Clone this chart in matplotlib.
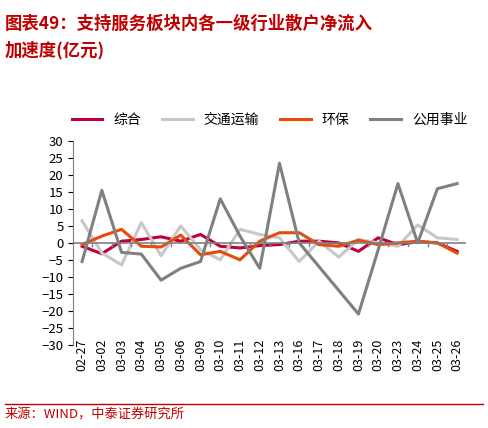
import matplotlib.pyplot as plt

plt.rcParams['font.family'] = ['Noto Sans CJK SC', 'DejaVu Sans']

dates = ["02-27", "03-02", "03-03", "03-04", "03-05", "03-06", "03-09", "03-10", "03-11", "03-12",
         "03-13", "03-16", "03-17", "03-18", "03-19", "03-20", "03-23", "03-24", "03-25", "03-26"]
zonghe = [-1, -3.2, 0.5, 1, 1.8, 0.5, 2.5, -1, -1.5, -0.8, -0.5, 0.5, 0.5, 0, -2.5, 1.5, -0.5, 0.3, 0, -2.5]
jiaotong = [6.5, -3, -6.5, 6, -3.8, 5, -2, -5, 4, 2.5, 1.5, -5.5, 0.5, -4.2, 1, 0, -1, 5.3, 1.5, 1]
huanbao = [-0.5, 2, 4, -1, -1.2, 2.3, -3.5, -2.5, -5, 0.5, 3, 3, -0.5, -1, 0.8, -0.5, 0, 0.5, 0, -3]
gongyong = [-5.5, 15.5, -2.8, -3.3, -11, -7.5, -5.5, 13, 2, -7.5, 23.5, 0, -7, -14, -21, -2, 17.5, 0, 16, 17.5]

fig = plt.figure(figsize=(4.88, 4.28), dpi=100)
ax = fig.add_axes([0.15, 0.195, 0.805, 0.475])
x = list(range(len(dates)))
ax.plot(x, zonghe, color="#c0003c", lw=2.2, label="综合")
ax.plot(x, jiaotong, color="#c8c8c8", lw=2.2, label="交通运输")
ax.plot(x, huanbao, color="#e84a0c", lw=2.2, label="环保")
ax.plot(x, gongyong, color="#808080", lw=2.2, label="公用事业")

ax.set_ylim(-30, 30)
ax.set_yticks(range(-30, 31, 5))
ax.set_xlim(-0.45, len(dates) - 0.55)
ax.set_xticks(x)
ax.set_xticklabels(dates, rotation=90)
ax.tick_params(axis='x', length=0, labelsize=9, pad=-4)
ax.tick_params(axis='y', labelsize=9.5, direction='out')
for s in ["top", "right", "bottom"]:
    ax.spines[s].set_visible(False)
ax.spines["left"].set_color("#808080")
ax.axhline(0, color="#808080", lw=1.2)
for xi in x:
    ax.plot([xi + 0.5, xi + 0.5], [0, -0.9], color="#808080", lw=1)

ax.legend(loc="upper center", bbox_to_anchor=(0.5, 1.2), ncol=4, frameon=False,
          fontsize=10, handlelength=2.2, columnspacing=1.5)

fig.text(0.01, 0.965, "图表49：支持服务板块内各一级行业散户净流入", fontsize=12.5, fontweight="bold",
         style="italic", color="#c00000", va="top")
fig.text(0.01, 0.905, "加速度(亿元)", fontsize=12.5, fontweight="bold", style="italic",
         color="#c00000", va="top")
fig.add_artist(plt.Line2D([0.01, 0.99], [0.055, 0.055], color="#c00000", lw=1))
fig.text(0.01, 0.03, "来源：WIND，中泰证券研究所", fontsize=9.5, color="#c00000", va="center")

fig.savefig("out.png", dpi=100)
